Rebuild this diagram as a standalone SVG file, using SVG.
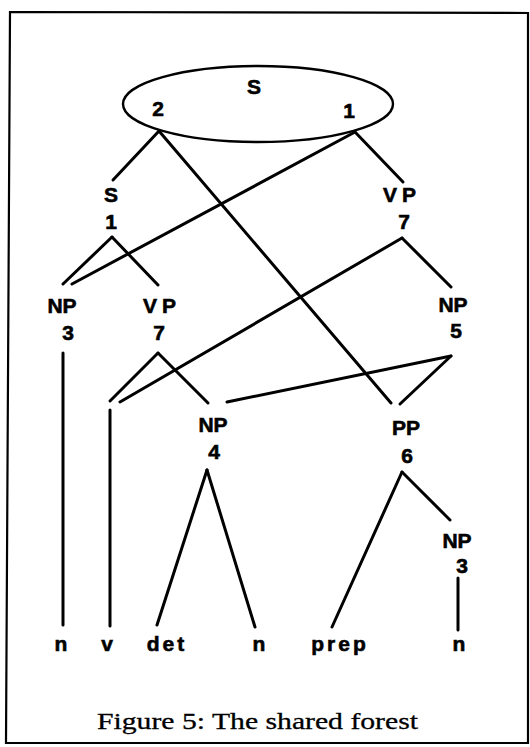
<svg xmlns="http://www.w3.org/2000/svg" width="530" height="747" viewBox="0 0 530 747">
<style>
.lbl{font-family:"Liberation Sans",Arial,sans-serif;font-weight:bold;font-size:21px;text-anchor:middle;fill:#000;stroke:#000;stroke-width:0.6}
.leaf{letter-spacing:3px}
.sp{letter-spacing:5px}
.e{fill:none;stroke:#000;stroke-width:3;stroke-linecap:round}
.cap{font-family:"Liberation Serif","Times New Roman",serif;font-size:24px;fill:#000;stroke:#000;stroke-width:0.3}
</style>
<rect width="530" height="747" fill="#fff"/>
<path d="M10,12 L528,13 L528,743 L6,743 Z" fill="none" stroke="#000" stroke-width="2.2"/>
<g id="connectors" class="e">
<line x1="159" y1="131" x2="113" y2="180"/>
<line x1="159" y1="131" x2="391" y2="403"/>
<line x1="355" y1="132" x2="403" y2="182"/>
<line x1="355" y1="132" x2="72" y2="284"/>
<line x1="112" y1="237" x2="63" y2="284"/>
<line x1="112" y1="237" x2="158" y2="285"/>
<line x1="402" y1="238" x2="120" y2="402"/>
<line x1="402" y1="238" x2="451" y2="287"/>
<line x1="63" y1="353" x2="63" y2="625"/>
<line x1="158" y1="353" x2="110" y2="401"/>
<line x1="158" y1="353" x2="208" y2="403"/>
<line x1="110" y1="410" x2="110" y2="626"/>
<line x1="451" y1="356" x2="227" y2="402"/>
<line x1="451" y1="356" x2="400" y2="404"/>
<line x1="207" y1="470" x2="157" y2="625"/>
<line x1="207" y1="470" x2="255" y2="627"/>
<line x1="402" y1="472" x2="332" y2="627"/>
<line x1="402" y1="472" x2="450" y2="520"/>
<line x1="458" y1="578" x2="458" y2="630"/>
</g>
<g id="node-S-root">
<ellipse cx="258" cy="104" rx="135" ry="38" fill="none" stroke="#000" stroke-width="2.4"/>
<text class="lbl" x="254" y="94">S</text>
<text class="lbl" x="158" y="116">2</text>
<text class="lbl" x="349" y="118">1</text>
</g>
<g id="node-S1">
<text class="lbl" x="111" y="202">S</text>
<text class="lbl" x="111" y="229">1</text>
</g>
<g id="node-VP7-right">
<text class="lbl sp" x="402" y="202">VP</text>
<text class="lbl" x="404" y="229">7</text>
</g>
<g id="node-NP3-left">
<text class="lbl" x="62" y="313">NP</text>
<text class="lbl" x="68" y="340">3</text>
</g>
<g id="node-VP7-left">
<text class="lbl sp" x="162" y="313">VP</text>
<text class="lbl" x="159" y="340">7</text>
</g>
<g id="node-NP5">
<text class="lbl" x="453" y="312">NP</text>
<text class="lbl" x="456" y="338">5</text>
</g>
<g id="node-NP4">
<text class="lbl" x="213" y="432">NP</text>
<text class="lbl" x="214" y="459">4</text>
</g>
<g id="node-PP6">
<text class="lbl" x="406" y="435">PP</text>
<text class="lbl" x="407" y="463">6</text>
</g>
<g id="node-NP3-right">
<text class="lbl" x="457" y="548">NP</text>
<text class="lbl" x="462" y="573">3</text>
</g>
<g id="leaves">
<text class="lbl" x="61" y="651">n</text>
<text class="lbl" x="107" y="651">v</text>
<text class="lbl leaf" x="167" y="651">det</text>
<text class="lbl" x="259" y="651">n</text>
<text class="lbl leaf" x="340" y="651">prep</text>
<text class="lbl" x="459" y="651">n</text>
</g>
<text class="cap" x="97" y="729" textLength="321" lengthAdjust="spacingAndGlyphs">Figure 5: The shared forest</text>
</svg>
